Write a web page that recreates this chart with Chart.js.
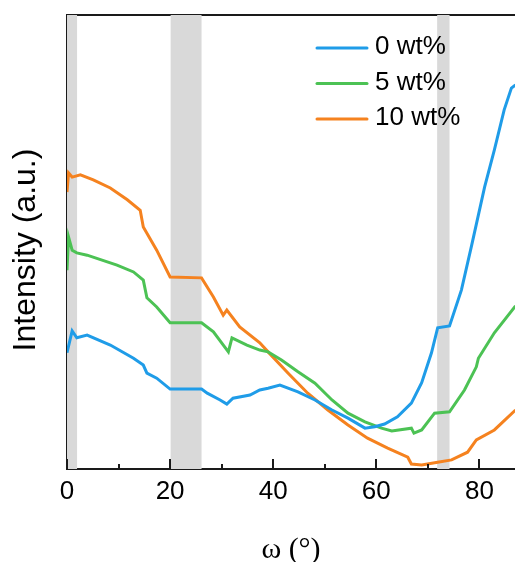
<!DOCTYPE html>
<html>
<head>
<meta charset="utf-8">
<script src="https://cdn.jsdelivr.net/npm/chart.js@4.4.1/dist/chart.umd.min.js"></script>
<style>
  html, body { margin: 0; padding: 0; background: #fff; }
  #c { display: block; }
</style>
</head>
<body>
<canvas id="c" width="515" height="562"></canvas>
<script>
// ---- data ----
const seriesLabels = ['0 wt%', '5 wt%', '10 wt%'];
const seriesColors = ['#1f9ce8', '#4cc254', '#f5821f'];
const yAxisTitle = 'Intensity (a.u.)';
const xAxisTitle = 'ω (°)';

const angle0 = [0, 1, 1.9, 3.9, 8.4, 12.9, 14.8, 15.5, 17.4, 20, 26.1, 27.2, 29.7, 31, 32.2, 35.5, 37.4, 39, 41.3, 44.8, 48.1, 51.4, 54.5, 57.8, 59.7, 61.6, 64.1, 66.8, 68.8, 70.7, 71.9, 74.2, 76.5, 78.5, 81, 82.9, 84.8, 86.2, 87];
const intensity0 = [25.6, 30.4, 28.9, 29.5, 27.3, 24.4, 22.9, 21.1, 20.0, 17.6, 17.6, 16.7, 15.2, 14.3, 15.6, 16.3, 17.4, 17.8, 18.5, 17.0, 15.2, 13.0, 11.2, 9.0, 9.3, 9.9, 11.5, 14.5, 19.0, 25.6, 31.1, 31.5, 39.4, 49.3, 62.1, 70.3, 79.1, 83.9, 84.6];

const angle5 = [0, 0.3, 1, 1.9, 3.9, 9.7, 12.9, 14.8, 15.5, 17.4, 20, 26.1, 28.4, 31.3, 32, 34.9, 37.4, 39, 41.6, 44.8, 48.1, 51.4, 54.5, 57.8, 61, 63, 66.8, 67.3, 68.8, 71.3, 74.2, 77.1, 79.4, 79.8, 82.9, 87];
const intensity5 = [43.8, 51.1, 48.2, 47.6, 47.1, 44.9, 43.4, 41.6, 37.7, 35.7, 32.2, 32.2, 30.2, 25.8, 28.9, 27.3, 26.2, 25.8, 24.0, 21.4, 18.9, 15.2, 12.3, 10.4, 9.0, 8.4, 9.0, 7.9, 8.6, 12.3, 12.6, 17.4, 22.5, 24.4, 30.0, 35.9];

const angle10 = [0, 0.3, 1, 2.6, 5.1, 8.4, 11.7, 14.2, 14.8, 17.4, 20, 26.1, 28.4, 30.3, 31, 33.5, 37.4, 39, 42.9, 46.7, 50.6, 54.5, 58.3, 62.2, 66.1, 66.8, 68.8, 71.9, 74.6, 77.7, 79.4, 82.9, 87];
const intensity10 = [61.0, 65.2, 64.3, 64.8, 63.7, 61.9, 59.3, 57.0, 53.3, 48.2, 42.3, 42.1, 37.9, 33.9, 35.0, 31.3, 27.8, 25.8, 21.1, 16.7, 13.0, 9.7, 6.8, 4.6, 2.6, 1.1, 0.9, 1.5, 2.0, 3.7, 6.4, 8.6, 13.0];

// shaded angular ranges
const bandStart = [0, 20.1, 71.8];
const bandEnd = [1.95, 26.1, 74.2];

const xTickValues = [0, 10, 20, 30, 40, 50, 60, 70, 80];
const xLabelEvery = 20;

// ---- helpers ----
const toPoints = (xs, ys) => xs.map((x, i) => ({ x: x, y: ys[i] }));
const AXIS_COLOR = '#1a1a1a';

Chart.defaults.font.family = "'Liberation Sans', Arial, sans-serif";
Chart.defaults.color = '#000';

const bandsPlugin = {
  id: 'bands',
  beforeDatasetsDraw(chart) {
    const { ctx, chartArea, scales } = chart;
    ctx.save();
    ctx.fillStyle = '#d9d9d9';
    for (let i = 0; i < bandStart.length; i++) {
      const x1 = scales.x.getPixelForValue(bandStart[i]);
      const x2 = scales.x.getPixelForValue(bandEnd[i]);
      ctx.fillRect(x1, chartArea.top, x2 - x1, chartArea.bottom - chartArea.top);
    }
    ctx.restore();
  }
};

const innerTicksPlugin = {
  id: 'innerTicks',
  afterDraw(chart) {
    const { ctx, chartArea, scales } = chart;
    ctx.save();
    ctx.strokeStyle = AXIS_COLOR;
    ctx.lineWidth = 2;
    scales.x.ticks.forEach(t => {
      const px = Math.round(scales.x.getPixelForValue(t.value));
      const len = (t.value % xLabelEvery === 0) ? 10 : 5;
      ctx.beginPath();
      ctx.moveTo(px, chartArea.bottom);
      ctx.lineTo(px, chartArea.bottom - len);
      ctx.stroke();
    });
    ctx.restore();
  }
};

const yTitlePlugin = {
  id: 'yTitle',
  afterDraw(chart) {
    const { ctx, chartArea } = chart;
    ctx.save();
    ctx.font = "32px 'Liberation Sans', Arial, sans-serif";
    ctx.fillStyle = '#000';
    ctx.textAlign = 'center';
    ctx.textBaseline = 'middle';
    ctx.translate(26, (chartArea.top + chartArea.bottom) / 2 + 8);
    ctx.rotate(-Math.PI / 2);
    ctx.fillText(yAxisTitle, 0, 0);
    ctx.restore();
  }
};

const insideLegendPlugin = {
  id: 'insideLegend',
  afterDraw(chart) {
    const { ctx } = chart;
    const x0 = 317, x1 = 367, tx = 375, y0 = 48, dy = 35.5;
    ctx.save();
    ctx.font = "26px 'Liberation Sans', Arial, sans-serif";
    ctx.textBaseline = 'middle';
    ctx.textAlign = 'left';
    chart.data.datasets.forEach((ds, i) => {
      const y = y0 + i * dy;
      ctx.strokeStyle = ds.borderColor;
      ctx.lineWidth = 3;
      ctx.lineCap = 'round';
      ctx.beginPath();
      ctx.moveTo(x0, y);
      ctx.lineTo(x1, y);
      ctx.stroke();
      ctx.fillStyle = '#000';
      ctx.fillText(ds.label, tx, y - 1);
    });
    ctx.restore();
  }
};

const series = [
  toPoints(angle0, intensity0),
  toPoints(angle5, intensity5),
  toPoints(angle10, intensity10)
];

new Chart(document.getElementById('c'), {
  type: 'line',
  data: {
    datasets: series.map((pts, i) => ({
      label: seriesLabels[i],
      data: pts,
      borderColor: seriesColors[i],
      backgroundColor: seriesColors[i],
      borderWidth: 3,
      pointRadius: 0,
      tension: 0,
      fill: false
    }))
  },
  options: {
    responsive: false,
    animation: false,
    devicePixelRatio: 1,
    layout: { padding: 0 },
    plugins: {
      legend: { display: false },
      tooltip: { enabled: false }
    },
    scales: {
      x: {
        type: 'linear',
        position: 'bottom',
        min: 0,
        max: 86.9,
        afterBuildTicks: s => { s.ticks = xTickValues.map(v => ({ value: v })); },
        afterFit: s => { s.height = 93; },
        grid: { display: false, drawTicks: false },
        border: { display: true, color: AXIS_COLOR, width: 2 },
        ticks: {
          padding: 7,
          autoSkip: false,
          maxRotation: 0,
          font: { size: 26 },
          color: '#000',
          callback: v => (v % xLabelEvery === 0 ? String(v) : '')
        },
        title: {
          display: true,
          text: xAxisTitle,
          font: { family: "'Liberation Serif', 'Times New Roman', serif", size: 30, lineHeight: 1 },
          padding: { top: 0, bottom: -3 },
          color: '#000'
        }
      },
      xTop: {
        type: 'linear',
        position: 'top',
        min: 0,
        max: 86.9,
        afterFit: s => { s.height = 15; },
        grid: { display: false, drawTicks: false },
        border: { display: true, color: AXIS_COLOR, width: 2 },
        ticks: { display: false }
      },
      y: {
        type: 'linear',
        position: 'left',
        min: 0,
        max: 100,
        afterFit: s => { s.width = 67; },
        grid: { display: false, drawTicks: false },
        border: { display: true, color: AXIS_COLOR, width: 2 },
        ticks: { display: false },
        title: { display: false }
      }
    }
  },
  plugins: [bandsPlugin, innerTicksPlugin, yTitlePlugin, insideLegendPlugin]
});
</script>
</body>
</html>
